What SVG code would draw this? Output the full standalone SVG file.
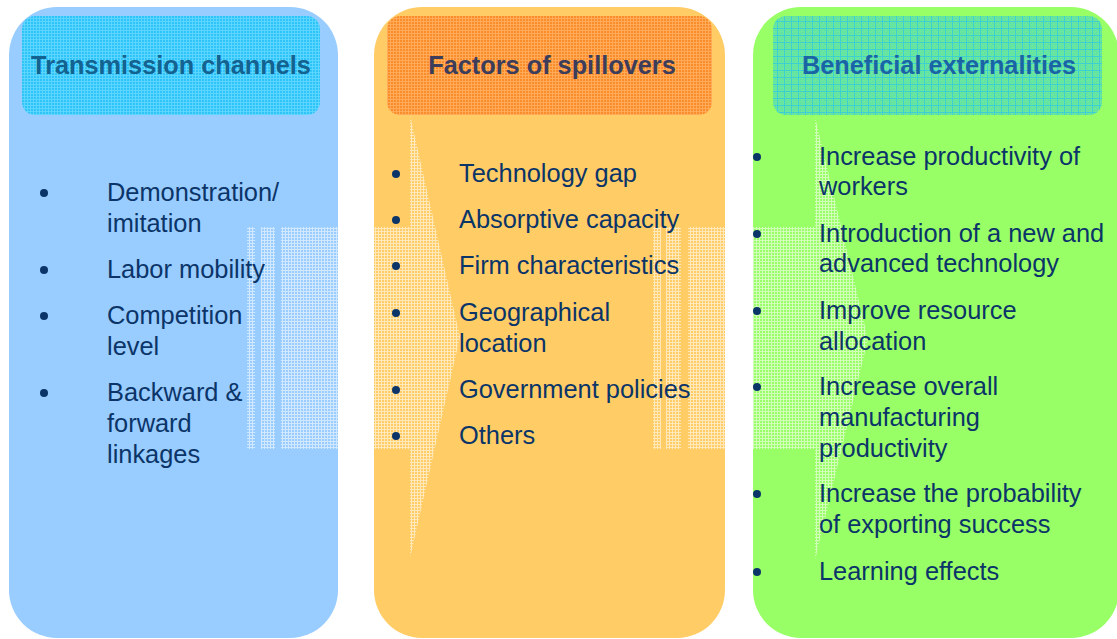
<svg xmlns="http://www.w3.org/2000/svg" width="1117" height="639" viewBox="0 0 1117 639">
  <style>
    .item { font-family: "Liberation Sans", Arial, sans-serif; font-size: 25.4px; fill: #0b3568; }
    .head { font-family: "Liberation Sans", Arial, sans-serif; font-size: 25.3px; font-weight: bold; text-anchor: middle; }
    .dot { fill: #0b3568; }
    .arrow { fill: url(#mesh); }
  </style>
  <defs>
    <!-- light lattice used by the translucent flow arrows -->
    <pattern id="mesh" width="3" height="3" patternUnits="userSpaceOnUse">
      <rect x="0" y="0" width="3" height="1" fill="#ffffff" fill-opacity="0.55"/>
      <rect x="0" y="1" width="1" height="2" fill="#ffffff" fill-opacity="0.55"/>
    </pattern>
    <!-- header textures -->
    <pattern id="gridBlue" width="3" height="3" patternUnits="userSpaceOnUse">
      <rect width="3" height="3" fill="#2ec4fa"/>
      <rect width="3" height="1" fill="#5cd6ff"/>
      <rect width="1" height="3" fill="#5cd6ff"/>
    </pattern>
    <pattern id="gridOrange" width="3" height="3" patternUnits="userSpaceOnUse">
      <rect width="3" height="3" fill="#fb8c2a"/>
      <rect width="3" height="1" fill="#ffab5a"/>
      <rect width="1" height="3" fill="#ffab5a"/>
    </pattern>
    <pattern id="gridGreen" width="7" height="7" patternUnits="userSpaceOnUse">
      <rect width="7" height="7" fill="#6ae79c"/>
      <rect x="2" y="2" width="1" height="1" fill="#50dcb4"/>
      <rect x="4" y="4" width="1" height="1" fill="#50dcb4"/>
      <rect x="2" y="5" width="1" height="1" fill="#50dcb4"/>
      <rect x="5" y="2" width="1" height="1" fill="#50dcb4"/>
      <rect width="7" height="1" fill="#3cd0d2"/>
      <rect width="1" height="7" fill="#3cd0d2"/>
    </pattern>
  </defs>

  <!-- column backgrounds -->
  <g id="panel-transmission">
    <rect x="9" y="7" width="329" height="631" rx="48" ry="48" fill="#99ccff"/>
  </g>
  <g id="panel-factors">
    <rect x="374" y="7" width="351" height="631" rx="48" ry="48" fill="#ffcc66"/>
  </g>
  <g id="panel-externalities">
    <rect x="753" y="7" width="366" height="631" rx="48" ry="48" fill="#99ff66"/>
  </g>

  <!-- striped flow arrows between the columns -->
  <g id="connectors">
    <g id="arrow-1" class="arrow">
      <rect x="247" y="227" width="8" height="222"/>
      <rect x="261" y="227" width="14" height="222"/>
      <rect x="281" y="227" width="129" height="222"/>
      <polygon points="410,115 460,337 410,558"/>
    </g>
    <g id="arrow-2" class="arrow">
      <rect x="653" y="227" width="8" height="222"/>
      <rect x="666" y="227" width="15" height="222"/>
      <rect x="688" y="227" width="127" height="222"/>
      <polygon points="815,117 868,339 815,560"/>
    </g>
  </g>

  <!-- column headers -->
  <g id="header-transmission">
    <rect x="22" y="16" width="298" height="99" rx="13" fill="url(#gridBlue)"/>
    <text x="171" y="74" class="head" fill="#13628f">Transmission channels</text>
  </g>
  <g id="header-factors">
    <rect x="387" y="16" width="325" height="99" rx="13" fill="url(#gridOrange)"/>
    <text x="552" y="74" class="head" fill="#3c3d5a">Factors of spillovers</text>
  </g>
  <g id="header-externalities">
    <rect x="773" y="16" width="329" height="99" rx="13" fill="url(#gridGreen)"/>
    <text x="939" y="74" class="head" fill="#1a64a6">Beneficial externalities</text>
  </g>

  <!-- transmission channel list -->
  <g id="list-transmission">
    <circle class="dot" cx="44" cy="193" r="4"/>
    <text class="item" x="107" y="201">Demonstration/</text>
    <text class="item" x="107" y="232">imitation</text>
    <circle class="dot" cx="44" cy="270" r="4"/>
    <text class="item" x="107" y="278">Labor mobility</text>
    <circle class="dot" cx="44" cy="316" r="4"/>
    <text class="item" x="107" y="324">Competition</text>
    <text class="item" x="107" y="355">level</text>
    <circle class="dot" cx="44" cy="393" r="4"/>
    <text class="item" x="107" y="401">Backward &amp;</text>
    <text class="item" x="107" y="432">forward</text>
    <text class="item" x="107" y="463">linkages</text>
  </g>

  <!-- spillover factor list -->
  <g id="list-factors">
    <circle class="dot" cx="396" cy="174" r="4"/>
    <text class="item" x="459" y="182">Technology gap</text>
    <circle class="dot" cx="396" cy="220" r="4"/>
    <text class="item" x="459" y="228">Absorptive capacity</text>
    <circle class="dot" cx="396" cy="266" r="4"/>
    <text class="item" x="459" y="274">Firm characteristics</text>
    <circle class="dot" cx="396" cy="313" r="4"/>
    <text class="item" x="459" y="321">Geographical</text>
    <text class="item" x="459" y="352">location</text>
    <circle class="dot" cx="396" cy="390" r="4"/>
    <text class="item" x="459" y="398">Government policies</text>
    <circle class="dot" cx="396" cy="436" r="4"/>
    <text class="item" x="459" y="444">Others</text>
  </g>

  <!-- externalities list -->
  <g id="list-externalities">
    <circle class="dot" cx="757" cy="157" r="4"/>
    <text class="item" x="819" y="165">Increase productivity of</text>
    <text class="item" x="819" y="195">workers</text>
    <circle class="dot" cx="757" cy="234" r="4"/>
    <text class="item" x="819" y="242">Introduction of a new and</text>
    <text class="item" x="819" y="272">advanced technology</text>
    <circle class="dot" cx="757" cy="311" r="4"/>
    <text class="item" x="819" y="319">Improve resource</text>
    <text class="item" x="819" y="350">allocation</text>
    <circle class="dot" cx="757" cy="387" r="4"/>
    <text class="item" x="819" y="395">Increase overall</text>
    <text class="item" x="819" y="426">manufacturing</text>
    <text class="item" x="819" y="457">productivity</text>
    <circle class="dot" cx="757" cy="494" r="4"/>
    <text class="item" x="819" y="502">Increase the probability</text>
    <text class="item" x="819" y="533">of exporting success</text>
    <circle class="dot" cx="757" cy="572" r="4"/>
    <text class="item" x="819" y="580">Learning effects</text>
  </g>
</svg>
